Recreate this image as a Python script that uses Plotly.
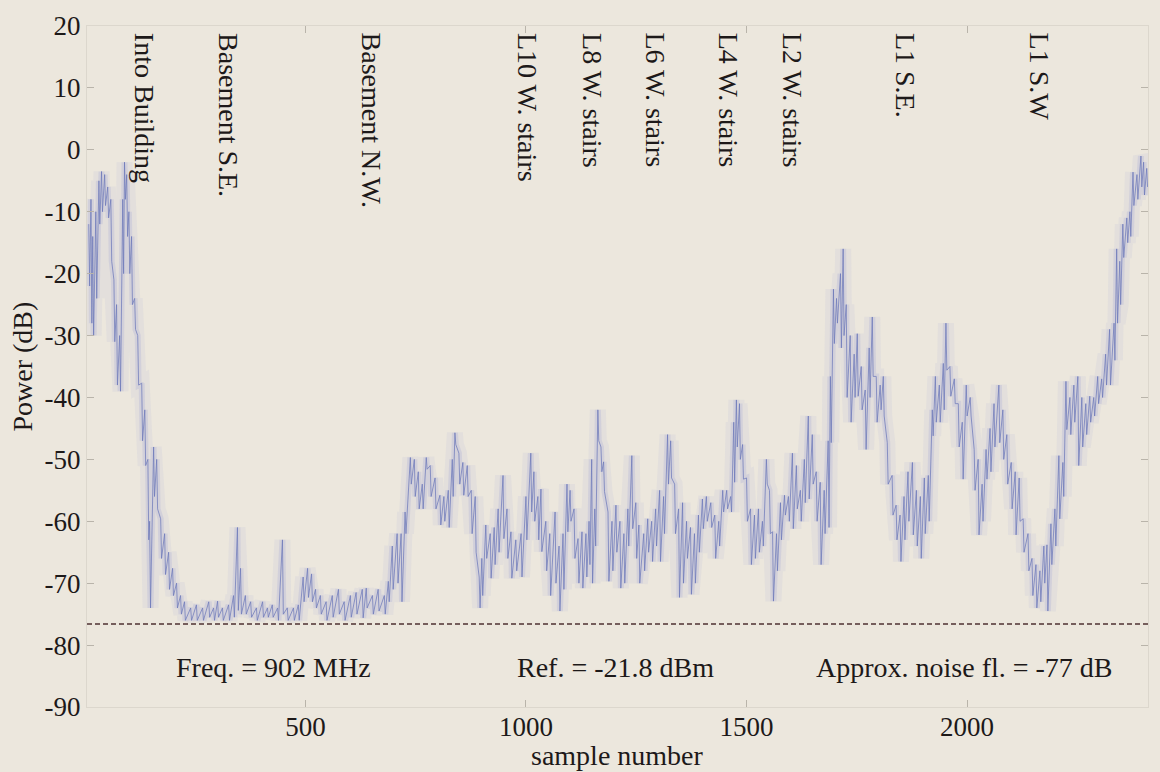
import plotly.graph_objects as go

# ---- data ----
sample = [9, 14, 18, 25, 32, 38, 45, 52, 59, 66, 72, 79, 86, 90, 95, 100, 106, 113, 120, 129,
          136, 143, 147, 156, 163, 172, 181, 190, 199, 208, 217, 226, 240, 253, 267, 281, 292, 301, 312, 326,
          337, 346, 353, 364, 376, 389, 403, 414, 425, 437, 448, 459, 473, 484, 495, 505, 514, 523, 534, 547,
          561, 575, 588, 602, 615, 629, 638, 652, 665, 679, 688, 697, 708, 717, 726, 738, 747, 756, 765, 774,
          783, 794, 805, 814, 824, 833, 839, 848, 857, 867, 876, 885, 894, 900, 909, 919, 928, 937, 948, 957,
          966, 977, 989, 1000, 1011, 1018, 1027, 1034, 1045, 1054, 1066, 1075, 1084, 1093, 1100, 1109, 1118, 1127, 1136, 1143,
          1149, 1156, 1163, 1170, 1176, 1186, 1195, 1204, 1213, 1222, 1231, 1240, 1249, 1256, 1267, 1276, 1285, 1294, 1303, 1312,
          1321, 1328, 1337, 1346, 1355, 1364, 1373, 1382, 1391, 1400, 1409, 1419, 1428, 1437, 1446, 1455, 1464, 1471, 1477, 1484,
          1491, 1500, 1509, 1518, 1527, 1536, 1545, 1552, 1559, 1568, 1577, 1586, 1595, 1604, 1613, 1622, 1631, 1640, 1649, 1658,
          1667, 1676, 1685, 1690, 1697, 1704, 1713, 1719, 1726, 1735, 1744, 1751, 1760, 1769, 1778, 1785, 1794, 1803, 1810, 1819,
          1830, 1839, 1848, 1857, 1866, 1876, 1885, 1894, 1903, 1912, 1921, 1928, 1937, 1946, 1952, 1961, 1971, 1980, 1989, 1998,
          2007, 2016, 2025, 2034, 2043, 2052, 2061, 2072, 2081, 2090, 2100, 2109, 2118, 2127, 2138, 2147, 2156, 2165, 2174, 2181,
          2190, 2199, 2208, 2217, 2224, 2233, 2242, 2251, 2260, 2269, 2278, 2287, 2296, 2305, 2314, 2323, 2333, 2339, 2346, 2353,
          2362, 2369, 2376, 2385, 2394, 2400, 2407]

peak_db = [-12, -8, -14, -10, -5, -3.5, -4, -6, -8, -21, -25, -30, -8, -2, -4, -10, -14, -24, -30, -37.7,
           -42, -50, -60, -48, -50, -59.6, -62, -65, -67.6, -70, -72, -73, -74, -73.5, -74, -73, -74, -72.9, -74, -73.5,
           -72, -61, -67.6, -72, -73, -74, -73, -74, -73.5, -74, -63, -74, -74, -73.5, -69, -67.6, -68.5, -71, -72, -73,
           -72, -71, -73, -72, -71.5, -71, -70.8, -72, -71, -72, -69.7, -64, -62, -62, -58.5, -49.7, -50, -52, -54, -49.7,
           -51, -53, -55.8, -56, -55, -50, -45.7, -49, -50.5, -51, -55, -56, -69, -66, -60.6, -62, -61, -58, -52.6, -58,
           -61.7, -63, -62, -56, -49, -52, -56, -54.8, -60, -62, -58.5, -64, -62, -54, -55, -58, -62.8, -61.7, -62, -60,
           -50, -58, -42, -48, -50.4, -58.5, -60, -57.4, -60, -62, -58, -49.4, -57, -60.6, -62, -59.6, -60, -58, -55, -56,
           -46, -47, -54, -58, -57, -60, -61, -62, -59, -56.4, -56, -57, -59, -60, -55, -55, -56, -44, -40.4, -41,
           -47.6, -53, -58, -59, -58, -60, -50, -55, -61.7, -62, -57, -55.8, -56, -49, -51, -55, -50, -43, -46, -52,
           -53.7, -55, -47, -36.6, -22.5, -24, -20, -16, -25, -30, -33, -29.7, -35, -38.8, -32, -27, -36.6, -38, -36.6, -47.3,
           -52.6, -57.4, -59, -56, -52, -50.5, -55, -56, -53, -52.6, -42, -36.6, -38, -34.5, -28, -35, -37, -41, -44, -38,
           -40, -48.4, -50, -54, -48.4, -45, -41, -38, -42, -46, -50.5, -52, -53, -59.6, -62, -66, -67, -68, -64, -63.8,
           -60.4, -58, -49.4, -50.5, -37.4, -40, -38, -36.6, -40, -41, -39.8, -40, -36.6, -37, -33, -29, -28, -16, -18, -12,
           -11, -10, -3.6, -4, -1, -2, -3]

dip_db = [-22, -28, -30, -24, -12, -10, -9, -11, -18, -31, -38, -39, -20, -8, -14, -20, -25, -29, -38, -47,
          -51, -63, -74, -56, -58, -66, -68.6, -71, -72, -74, -75, -76, -76, -76, -76, -75.5, -76, -75.5, -76, -76,
          -75.5, -74.4, -75, -75, -75.5, -76, -75.5, -75.5, -75.5, -76, -75, -76, -76, -76, -73, -72.3, -73, -74, -75, -76,
          -75.5, -75, -76, -75.5, -75, -75.6, -74, -75, -74.5, -75, -73, -71, -70, -73, -62, -54, -56, -58, -58, -51.6,
          -56, -58, -60.6, -60, -61, -56, -47.6, -54, -55.8, -56, -62, -65, -74, -72, -66, -69.2, -67, -65, -62.8, -66,
          -69.2, -68, -69, -63, -58.5, -60, -63, -64.9, -68, -72, -70, -74.5, -71, -61.7, -60, -66, -70, -70.8, -69, -67,
          -70, -64, -47, -52, -55.2, -69.7, -68, -65, -70.8, -70, -64, -61.2, -66, -70, -68, -65, -66.5, -64, -66.5, -62,
          -54, -53, -62, -72.3, -70, -66, -71.8, -70, -65, -61.2, -60, -61, -66, -64, -58.5, -58, -58.5, -53.7, -48, -50,
          -53.2, -60, -67, -66, -65, -64, -54, -62, -72.9, -68, -63, -59, -60, -61.2, -58, -60, -57, -56.4, -54, -60,
          -67, -62, -61, -47.3, -31.3, -28, -32, -30, -40, -44, -40, -39.8, -42, -48.4, -40, -36.6, -44, -42, -43, -54,
          -59, -63, -66.5, -63, -60, -62.2, -64, -66, -62, -60, -46.2, -44, -44, -42, -35.6, -39.8, -41, -48, -53.2, -43,
          -43, -55, -62.2, -60, -53.2, -52, -48, -47.3, -50, -54, -58, -62.2, -60, -65, -68, -72, -74, -73, -70, -74.5,
          -67, -64, -59.6, -56, -45.2, -46, -44, -51, -48, -46, -44, -43, -41, -40, -38, -38, -34, -28, -25, -17.4,
          -15, -14, -9, -8, -6, -7.3, -6]

marker_labels = ["Into Building", "Basement S.E.", "Basement N.W.", "L10 W. stairs", "L8 W. stairs",
                 "L6 W. stairs", "L4 W. stairs", "L2 W. stairs", "L1 S.E.", "L1 S.W"]
marker_samples = [136, 326, 649, 1005, 1152, 1294, 1459, 1606, 1862, 2163]

info_texts = ["Freq. = 902 MHz", "Ref. = -21.8 dBm", "Approx. noise fl. = -77 dB"]
info_samples = [428, 1204, 1995]
info_level_db = -83.6

noise_floor_db = -76.6
x_ticks = [500, 1000, 1500, 2000]
y_ticks = [20, 10, 0, -10, -20, -30, -40, -50, -60, -70, -80, -90]

# ---- styling ----
FONT = "Liberation Serif"
INK = "#1d1919"
BG = "#ece7dd"

# zig-zag path between the local peaks and dips of the trace
zx, zy = [], []
for s, hi, lo in zip(sample, peak_db, dip_db):
    zx += [s, s + 2]
    zy += [hi, lo]

fig = go.Figure()
fig.add_trace(go.Scatter(x=zx, y=zy, mode="lines",
                         line=dict(color="rgba(150,155,215,0.10)", width=16),
                         hoverinfo="skip", showlegend=False))
fig.add_trace(go.Scatter(x=zx, y=zy, mode="lines",
                         line=dict(color="rgba(145,150,210,0.20)", width=6),
                         hoverinfo="skip", showlegend=False))
fig.add_trace(go.Scatter(x=zx, y=zy, mode="lines",
                         line=dict(color="rgba(110,122,185,0.75)", width=1),
                         hoverinfo="skip", showlegend=False))

fig.add_hline(y=noise_floor_db, line=dict(color="#4d3232", width=1.5, dash="5px,3px"))

for lab, s in zip(marker_labels, marker_samples):
    fig.add_annotation(x=s, y=19.25, text=lab, textangle=90, showarrow=False,
                       xanchor="center", yanchor="top",
                       font=dict(family=FONT, size=28, color=INK))

for t, s in zip(info_texts, info_samples):
    fig.add_annotation(x=s, y=info_level_db, text=t, showarrow=False,
                       xanchor="center", yanchor="middle",
                       font=dict(family=FONT, size=28, color=INK))

fig.add_annotation(xref="paper", yref="paper", x=0, y=0.5, xshift=-65, text="Power (dB)",
                   textangle=-90, showarrow=False, xanchor="center", yanchor="middle",
                   font=dict(family=FONT, size=28, color=INK))
fig.add_annotation(xref="paper", yref="paper", x=0.5, y=0, yshift=-48, text="sample number",
                   showarrow=False, xanchor="center", yanchor="middle",
                   font=dict(family=FONT, size=28, color=INK))

fig.update_xaxes(range=[5, 2410], tickvals=x_ticks, ticktext=[str(v) for v in x_ticks],
                 ticks="inside", ticklen=7, tickcolor="#b9b4aa", showgrid=False, zeroline=False,
                 showline=True, linecolor="#dcd7cd", mirror="ticks", ticklabelstandoff=-4,
                 tickfont=dict(family=FONT, size=27, color=INK))
fig.update_yaxes(range=[-90, 20], tickvals=y_ticks, ticktext=[str(v) for v in y_ticks],
                 ticks="inside", ticklen=7, tickcolor="#b9b4aa", showgrid=False, zeroline=False,
                 showline=True, linecolor="#dcd7cd", mirror="ticks",
                 tickfont=dict(family=FONT, size=27, color=INK))

fig.update_layout(width=1160, height=772, paper_bgcolor=BG, plot_bgcolor=BG,
                  margin=dict(l=87, r=11, t=19, b=65), showlegend=False, hovermode=False)

fig.write_html("out.html", config={"displayModeBar": False},
               post_script="document.body.style.margin='0';document.body.style.overflow='hidden';"
                           "document.body.style.background='" + BG + "';")
